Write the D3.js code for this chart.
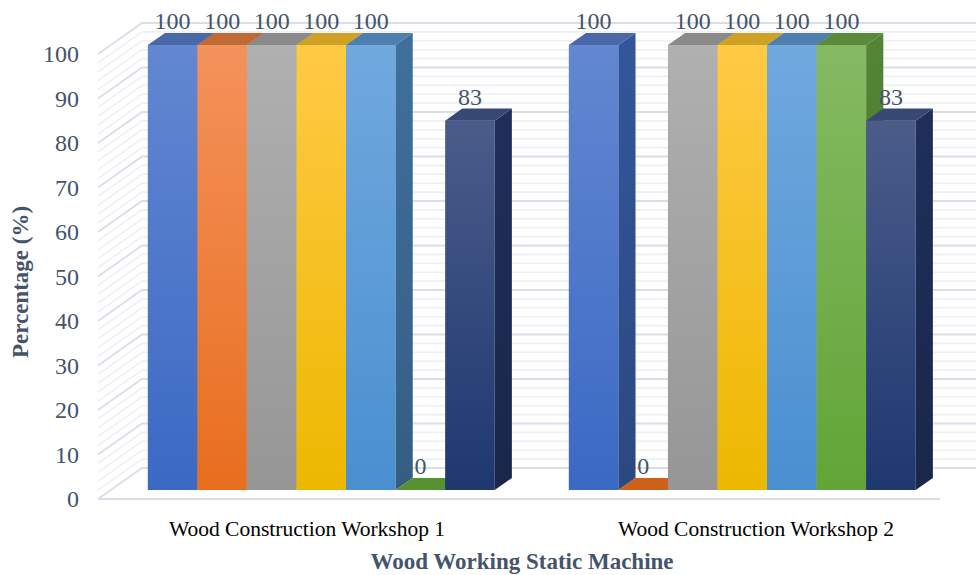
<!DOCTYPE html>
<html>
<head>
<meta charset="utf-8">
<script src="https://cdn.jsdelivr.net/npm/d3@7"></script>
<style>
  body { margin: 0; background: #ffffff; }
  svg { display: block; }
</style>
</head>
<body>
<svg id="chart" width="976" height="575"></svg>
<script>
// ---- data ----
const categories = ["Wood Construction Workshop 1", "Wood Construction Workshop 2"];
const seriesNames = ["Series 1", "Series 2", "Series 3", "Series 4", "Series 5", "Series 6", "Series 7"];
const workshop1 = [100, 100, 100, 100, 100, 0, 83];
const workshop2 = [100, 0, 100, 100, 100, 100, 83];
const tickValues = [0, 10, 20, 30, 40, 50, 60, 70, 80, 90, 100];
const minorValues = d3.range(0, 101, 2);
const xTitle = "Wood Working Static Machine";
const yTitle = "Percentage (%)";

// face shades per series: front gradient (top -> bottom), top face, side face
const palette = [
  { top: "#6387d1", bottom: "#3a69c4", cap: "#4a68a8", side: "#2f4f8e" },
  { top: "#f4925c", bottom: "#e86e1e", cap: "#bf6a34", side: "#b0561c" },
  { top: "#b0b0b0", bottom: "#969696", cap: "#8a8a8a", side: "#7a7a7a" },
  { top: "#ffca45", bottom: "#edb800", cap: "#cfa226", side: "#b8900a" },
  { top: "#70a9de", bottom: "#4a8fd0", cap: "#4f7faf", side: "#3a6690" },
  { top: "#85ba63", bottom: "#62a536", cap: "#5b8a3d", side: "#4d7a30" },
  { top: "#4b5c8a", bottom: "#1e3870", cap: "#384872", side: "#1c2b52" }
];

const rows = categories.map((c, i) => ({
  category: c,
  values: (i === 0 ? workshop1 : workshop2).map((v, j) => ({ series: seriesNames[j], idx: j, value: v }))
}));

// ---- geometry ----
const floorLeft = 98, floorWidth = 842;
const depthX = 44, depthY = 31;      // full depth of the chart box
const barZ0 = 0.29, barZ1 = 0.68;    // bar front / back depth (fraction of box)
const serif = "'Liberation Serif', 'Times New Roman', serif";

const svg = d3.select("#chart");
const x0 = d3.scaleBand().domain(categories)
  .range([floorLeft, floorLeft + floorWidth])
  .paddingInner(0.176).paddingOuter(0.088);
const x1 = d3.scaleBand().domain(seriesNames).range([0, x0.bandwidth()]);
const y = d3.scaleLinear().domain([0, 100]).range([499, 54]);
const proj = (sx, v, z) => [sx + z * depthX, y(v) - z * depthY];
const pts = arr => arr.map(p => p.join(",")).join(" ");

// gradients
const defs = svg.append("defs");
palette.forEach((p, i) => {
  const g = defs.append("linearGradient").attr("id", "front" + i)
    .attr("x1", 0).attr("y1", 0).attr("x2", 0).attr("y2", 1);
  g.append("stop").attr("offset", "0%").attr("stop-color", p.top);
  g.append("stop").attr("offset", "100%").attr("stop-color", p.bottom);
  const s = defs.append("linearGradient").attr("id", "side" + i)
    .attr("x1", 0).attr("y1", 0).attr("x2", 0).attr("y2", 1);
  s.append("stop").attr("offset", "0%").attr("stop-color", d3.color(p.side).brighter(0.25));
  s.append("stop").attr("offset", "100%").attr("stop-color", d3.color(p.side).darker(0.25));
});
defs.append("clipPath").attr("id", "plotClip")
  .append("rect").attr("x", 0).attr("y", 0).attr("width", 976).attr("height", 575);

// ---- walls / gridlines ----
const grid = svg.append("g").attr("clip-path", "url(#plotClip)");
function wallLine(v, color, width) {
  const a = proj(floorLeft, v, 0), b = proj(floorLeft, v, 1), c = proj(floorLeft + floorWidth, v, 1);
  grid.append("polyline").attr("points", pts([a, b, c]))
    .attr("fill", "none").attr("stroke", color).attr("stroke-width", width);
}
minorValues.filter(v => v % 10 !== 0).forEach(v => wallLine(v, "#eef0f4", 1.6));
tickValues.forEach(v => wallLine(v, "#dadee7", 1.8));
// floor front edge
grid.append("line")
  .attr("x1", floorLeft).attr("x2", floorLeft + floorWidth)
  .attr("y1", y(0)).attr("y2", y(0))
  .attr("stroke", "#dadee7").attr("stroke-width", 2);

// ---- bars ----
const barsG = svg.append("g");
rows.forEach(row => {
  const base = x0(row.category);
  row.values.forEach(d => {
    const xl = base + x1(d.series), xr = xl + x1.bandwidth();
    const g = barsG.append("g");
    const p = palette[d.idx];
    // front face
    const f0 = proj(xl, d.value, barZ0), f1 = proj(xr, 0, barZ0);
    if (d.value > 0) {
      g.append("rect")
        .attr("x", f0[0]).attr("y", f0[1])
        .attr("width", f1[0] - f0[0]).attr("height", f1[1] - f0[1])
        .attr("fill", `url(#front${d.idx})`);
      // side face
      g.append("polygon")
        .attr("points", pts([proj(xr, 0, barZ0), proj(xr, d.value, barZ0), proj(xr, d.value, barZ1), proj(xr, 0, barZ1)]))
        .attr("fill", `url(#side${d.idx})`);
    }
    // top face
    g.append("polygon")
      .attr("points", pts([proj(xl, d.value, barZ0), proj(xr, d.value, barZ0), proj(xr, d.value, barZ1), proj(xl, d.value, barZ1)]))
      .attr("fill", d.value > 0 ? p.cap : d3.color(p.bottom).darker(0.35));
  });
});

// ---- data labels ----
const labelsG = svg.append("g")
  .attr("font-family", serif)
  .attr("font-size", 24).attr("fill", "#44546a").attr("text-anchor", "middle");
rows.forEach(row => {
  const base = x0(row.category);
  row.values.forEach(d => {
    const xl = base + x1(d.series);
    const c = proj(xl + x1.bandwidth() / 2, d.value, barZ0);
    labelsG.append("text")
      .attr("x", c[0])
      .attr("y", proj(xl, d.value, barZ1)[1] - 4)
      .text(d.value);
  });
});

// ---- value axis ticks ----
svg.append("g")
  .attr("font-family", serif)
  .attr("font-size", 24).attr("fill", "#44546a").attr("text-anchor", "end")
  .selectAll("text").data(tickValues).join("text")
  .attr("x", 79).attr("y", v => y(v) + 8)
  .text(v => v);

// ---- category labels ----
const labelX = d3.scalePoint().domain(categories).range([307, 756]);
svg.append("g")
  .attr("font-family", serif)
  .attr("font-size", 21.5).attr("fill", "#000000").attr("text-anchor", "middle")
  .selectAll("text").data(categories).join("text")
  .attr("x", c => labelX(c)).attr("y", 536)
  .text(c => c);

// ---- axis titles ----
svg.append("text")
  .attr("x", 522).attr("y", 569)
  .attr("text-anchor", "middle")
  .attr("font-family", serif)
  .attr("font-size", 23).attr("font-weight", "bold").attr("fill", "#44546a")
  .text(xTitle);
svg.append("text")
  .attr("transform", "translate(28,282) rotate(-90)")
  .attr("text-anchor", "middle")
  .attr("font-family", serif)
  .attr("font-size", 23).attr("font-weight", "bold").attr("fill", "#44546a")
  .text(yTitle);
</script>
</body>
</html>
